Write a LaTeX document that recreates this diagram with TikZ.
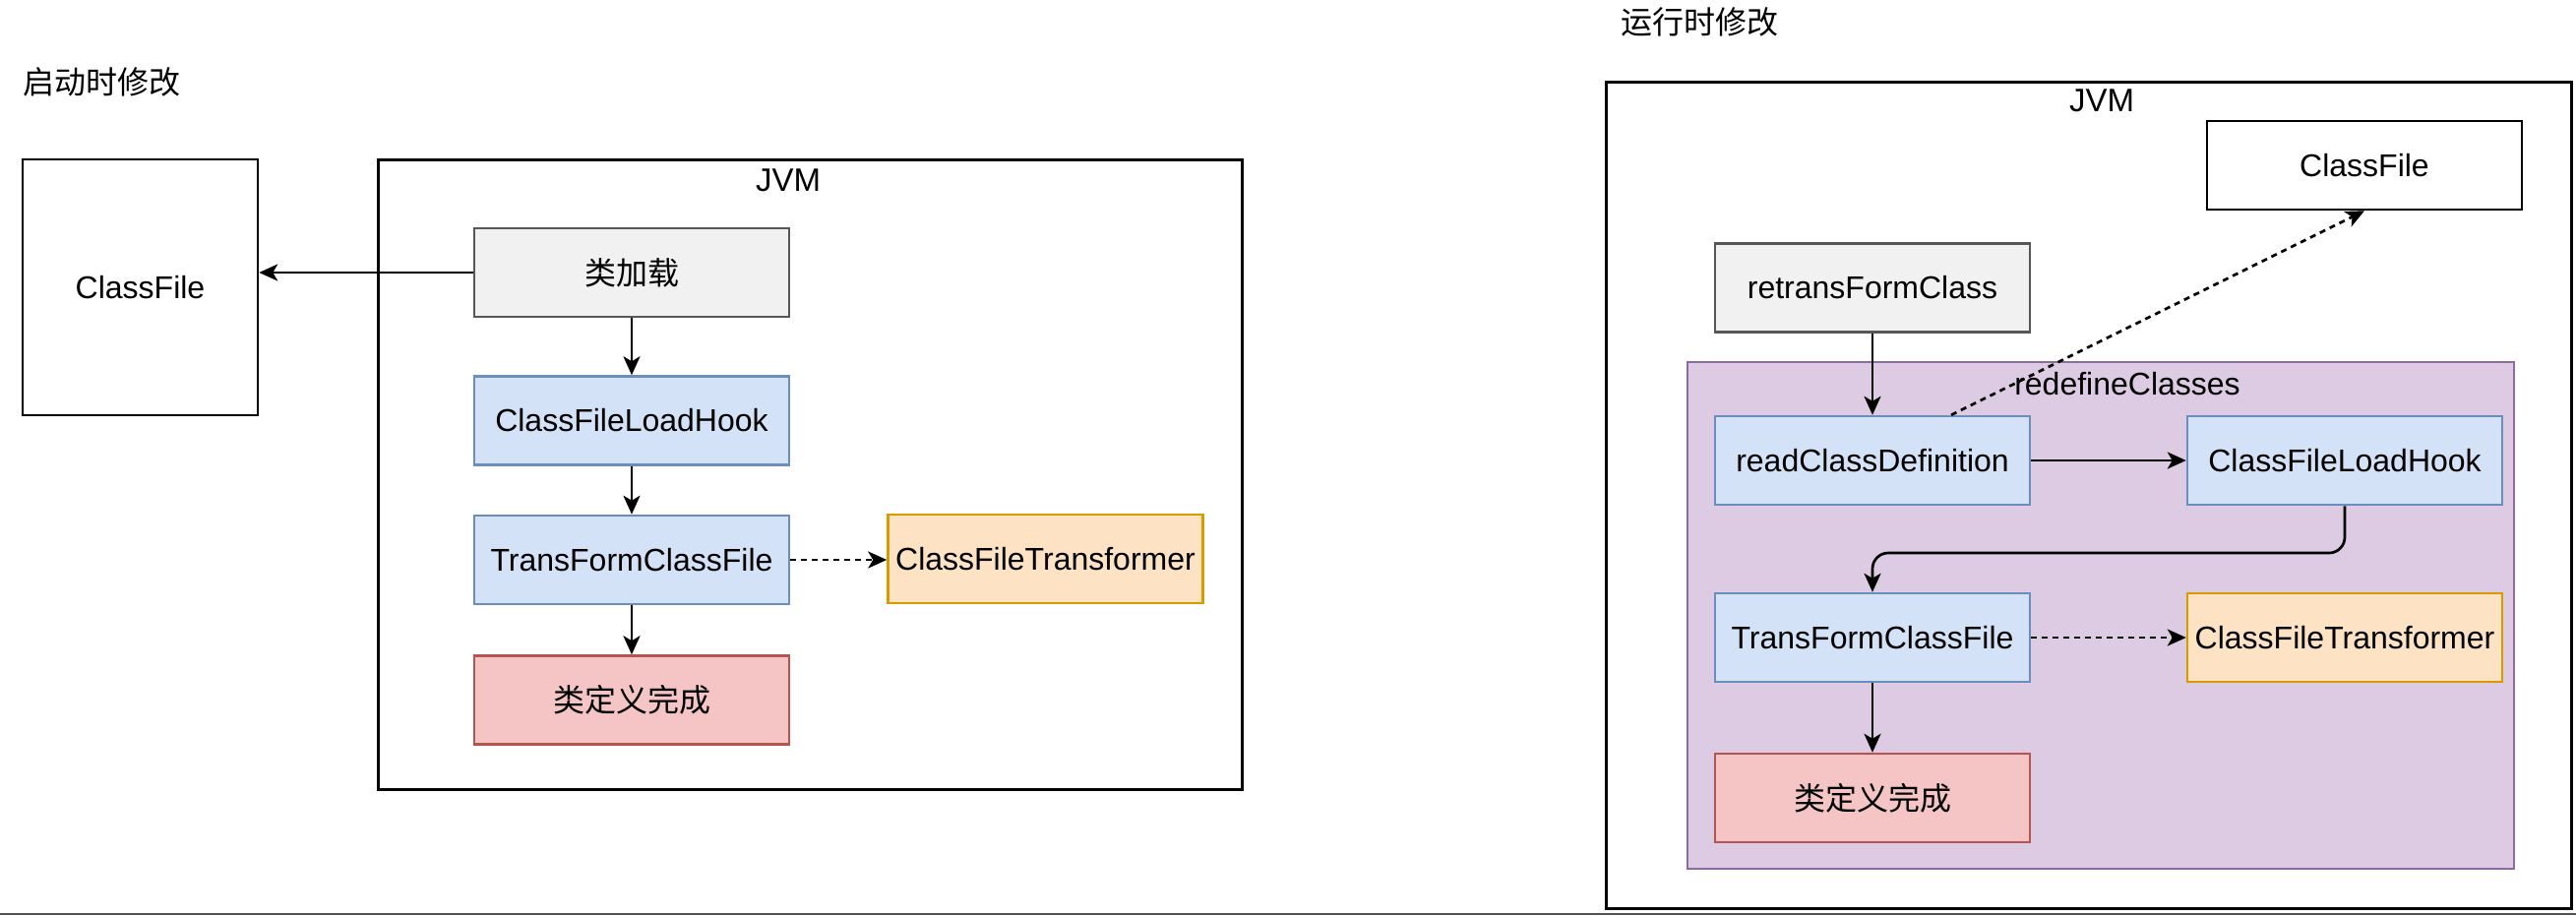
\documentclass[tikz,border=0pt]{standalone}
\usepackage{fontspec}
\setmainfont{Liberation Sans}
\newfontfamily\cjk{Noto Sans CJK SC}
\usetikzlibrary{arrows.meta,calc}
\definecolor{grayfill}{HTML}{F1F1F1}
\definecolor{graydraw}{HTML}{575757}
\definecolor{bluefill}{HTML}{D4E2F7}
\definecolor{bluedraw}{HTML}{6C8EBF}
\definecolor{orangefill}{HTML}{FDE2C4}
\definecolor{orangedraw}{HTML}{D79B00}
\definecolor{redfill}{HTML}{F4C5C4}
\definecolor{reddraw}{HTML}{B85450}
\definecolor{purplefill}{HTML}{DCCBE2}
\definecolor{purpledraw}{HTML}{8E6AA0}
\tikzset{
  txt/.style={font=\fontsize{32}{38}\selectfont},
  box/.style={txt, draw, line width=2.5pt, minimum width=320pt, minimum height=90pt, inner sep=0pt},
  graybox/.style={box, fill=grayfill, draw=graydraw},
  bluebox/.style={box, fill=bluefill, draw=bluedraw},
  orangebox/.style={box, fill=orangefill, draw=orangedraw},
  redbox/.style={box, fill=redfill, draw=reddraw},
  plainbox/.style={box, fill=white, draw=black},
  frame/.style={draw=black, line width=3pt},
  conn/.style={line width=2.7pt, -{Stealth[length=19pt, width=17pt, inset=5pt]}},
  dconn/.style={conn, dash pattern=on 6pt off 5pt},
  title/.style={font=\cjk\fontsize{32}{36}\selectfont, anchor=west, inner sep=0pt},
}
\begin{document}
\begin{tikzpicture}[x=1pt,y=-1pt]
\useasboundingbox[fill=white] (0,0) rectangle (2618,930);
\draw[draw=black!68, line width=2pt] (0,929) -- (2618,929);

% ---------- left: startup modification ----------
\node[title] (t1) at (23,83) {启动时修改};
\node[plainbox, minimum width=239pt, minimum height=260pt] (cf1) at (142.5,292) {ClassFile};
\draw[frame] (384,162) rectangle (1262,802);
\node[txt, font=\fontsize{33}{38}\selectfont] (jvm1) at (801,183) {JVM};
\node[graybox] (load) at (642,277) {\cjk 类加载};
\node[bluebox] (hook1) at (642,427.5) {ClassFileLoadHook};
\node[bluebox] (tf1) at (642,569) {TransFormClassFile};
\node[redbox] (done1) at (642,711.5) {\cjk 类定义完成};
\node[orangebox] (cft1) at (1062.5,568) {ClassFileTransformer};

\draw[conn] (load.west) -- (load.west -| cf1.east);
\draw[conn] (load) -- (hook1);
\draw[conn] (hook1) -- (tf1);
\draw[conn] (tf1) -- (done1);
\draw[dconn] (tf1.east) -- (tf1.east -| cft1.west);

% ---------- right: runtime modification ----------
\node[title] (t2) at (1647,22.5) {运行时修改};
\draw[frame] (1632,83) rectangle (2613,923);
\node[txt, font=\fontsize{33}{38}\selectfont] (jvm2) at (2136,102) {JVM};
\node[plainbox] (cf2) at (2403,168) {ClassFile};
\node[graybox] (retrans) at (1903,292.5) {retransFormClass};
\draw[fill=purplefill, draw=purpledraw, line width=2.5pt] (1715,368) rectangle (2555,883);
\node[bluebox] (read) at (1903,468) {readClassDefinition};
\node[bluebox] (hook2) at (2383,468) {ClassFileLoadHook};
\node[bluebox] (tf2) at (1903,648) {TransFormClassFile};
\node[orangebox] (cft2) at (2383,648) {ClassFileTransformer};
\node[redbox] (done2) at (1903,811) {\cjk 类定义完成};

\coordinate (readtop) at ([xshift=80pt]read.north);
\draw[dconn] (readtop) -- (cf2.south);
\node[txt] (redef) at (2162,390) {redefineClasses};

\draw[conn] (retrans) -- (read);
\draw[conn] (read) -- (hook2);
\draw[conn, rounded corners=16pt] (hook2.south) -- (hook2.south |- 0,562) -- (tf2.north |- 0,562) -- (tf2.north);
\draw[dconn] (tf2) -- (cft2);
\draw[conn] (tf2) -- (done2);
\end{tikzpicture}
\end{document}
